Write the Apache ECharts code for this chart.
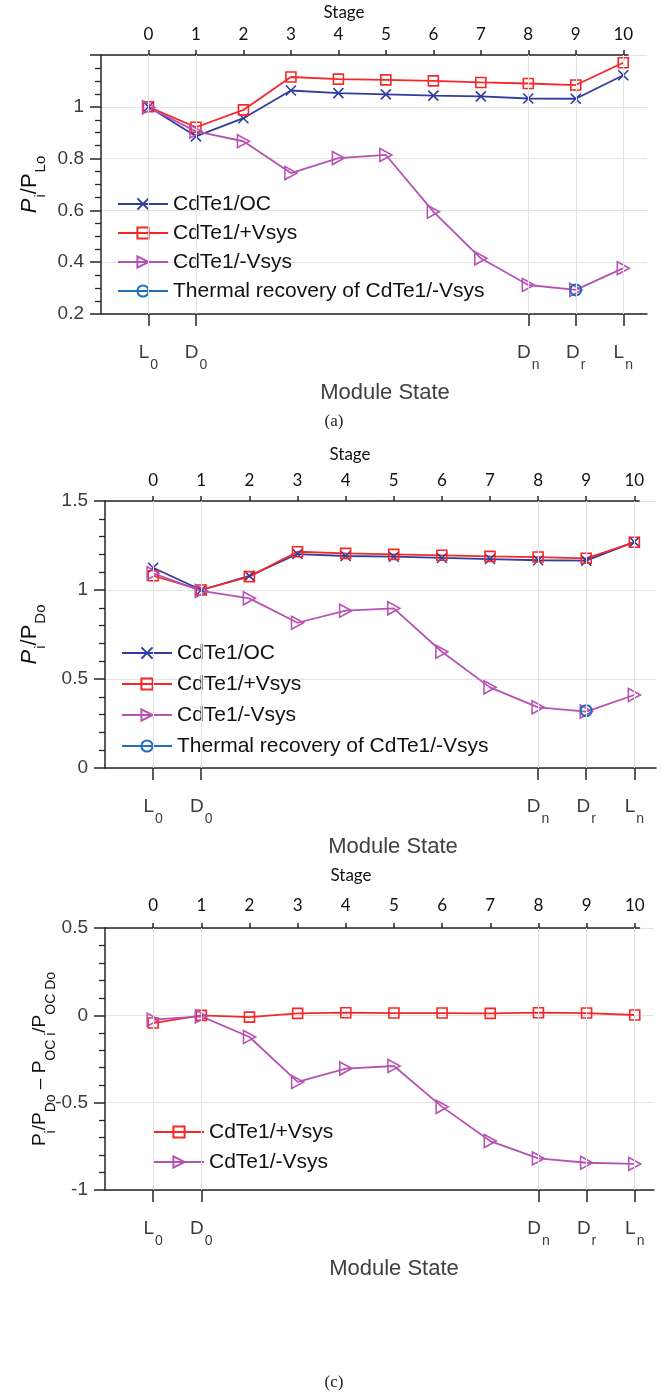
<!DOCTYPE html>
<html><head><meta charset="utf-8">
<script src="https://cdn.jsdelivr.net/npm/echarts@6/dist/echarts.min.js"></script>
<style>html,body{margin:0;padding:0;background:#fff}#c{width:668px;height:1395px}</style>
</head><body><div id="c"></div>
<script>
// ---------------- data ----------------
const STAGES = [0,1,2,3,4,5,6,7,8,9,10];
const STAGE_LABELS = ['0','1','2','3','4','5','6','7','8','9','10'];
const STATE_TICKS = [0,1,8,9,10];
const STATE_MAIN = ['L','D','D','D','L'];
const STATE_SUB = ['0','0','n','r','n'];
const SERIES_NAMES = ['CdTe1/OC','CdTe1/+Vsys','CdTe1/-Vsys','Thermal recovery of CdTe1/-Vsys'];

// panel (a): Pi/PLo
const A_OC  = [1.000,0.886,0.956,1.063,1.053,1.048,1.043,1.040,1.032,1.031,1.122];
const A_POS = [1.000,0.921,0.988,1.115,1.107,1.104,1.100,1.094,1.090,1.084,1.170];
const A_NEG = [0.998,0.905,0.867,0.744,0.802,0.814,0.595,0.415,0.312,0.293,0.377];
const THERMAL_STAGE = [9];
const A_THERMAL = [0.293];

// panel (b): Pi/PDo
const B_OC  = [1.125,1.000,1.079,1.202,1.191,1.187,1.180,1.174,1.167,1.165,1.270];
const B_POS = [1.080,1.000,1.075,1.215,1.206,1.200,1.195,1.189,1.185,1.178,1.268];
const B_NEG = [1.094,0.995,0.953,0.816,0.884,0.897,0.653,0.453,0.341,0.317,0.410];
const B_THERMAL = [0.322];

// panel (c): Pi/PDo - POCi/POCDo
const C_POS = [-0.044,0.000,-0.010,0.011,0.015,0.013,0.013,0.011,0.015,0.013,0.002];
const C_NEG = [-0.025,-0.006,-0.124,-0.381,-0.305,-0.290,-0.524,-0.720,-0.819,-0.844,-0.851];

// ---------------- styles ----------------
const FONT = "'Liberation Sans', Arial, Helvetica, sans-serif";
const STAGE_FONT = "Lato, 'Open Sans', sans-serif";
const AX = '#262626', GRIDC = '#e2e2e2', TXT = '#3c3c3c';
const COL = {oc:'#2f3d9e', pos:'#f52828', neg:'#b652b3', th:'#1f6fbf'};
const SYM = {
  x: 'path://M0,0L10,10M10,0L0,10',
  tri: 'path://M0,0L10,5L0,10Z',
  rect: 'rect',
  circle: 'circle'
};

const zip = (xs, ys) => xs.map((x, i) => [x, ys[i]]);

const layouts = [
  {left:101, top:55, right:21, height:259, xmax:10.5, ymin:0.2, ymax:1.2, yint:0.2, minor:4,
   yname:'{i|P}{s|i}{n|/P}{s|Lo}', nameGap:58, msPad:22, topMargin:12,
   legend:{left:117, top:193, gap:7}, hideTop:true,
   series:[['CdTe1/OC',A_OC,COL.oc,SYM.x,10],['CdTe1/+Vsys',A_POS,COL.pos,SYM.rect,10],['CdTe1/-Vsys',A_NEG,COL.neg,SYM.tri,[12,13]]],
   thermal:A_THERMAL, legendNames:SERIES_NAMES},
  {left:105, top:501, right:12, height:267, xmax:10.45, ymin:0, ymax:1.5, yint:0.5, minor:5,
   yname:'{i|P}{s|i}{n|/P}{s|Do}', nameGap:62, msPad:25, topMargin:12,
   legend:{left:121, top:642, gap:9}, hideTop:false,
   series:[['CdTe1/OC',B_OC,COL.oc,SYM.x,10],['CdTe1/+Vsys',B_POS,COL.pos,SYM.rect,10],['CdTe1/-Vsys',B_NEG,COL.neg,SYM.tri,[12,13]]],
   thermal:B_THERMAL, legendNames:SERIES_NAMES},
  {left:105, top:928, right:14, height:262, xmax:10.4, ymin:-1, ymax:0.5, yint:0.5, minor:5,
   yname:'{n|P}{s|i}{n|/P}{s|Do}{n| – P}{s|OC i}{n|/P}{s|OC Do}', nameGap:53, msPad:29, topMargin:14,
   legend:{left:153, top:1121, gap:8}, hideTop:false, small:true,
   series:[['CdTe1/+Vsys',C_POS,COL.pos,SYM.rect,10],['CdTe1/-Vsys',C_NEG,COL.neg,SYM.tri,[12,13]]],
   thermal:null, legendNames:['CdTe1/+Vsys','CdTe1/-Vsys']}
];

const option = {animation:false, backgroundColor:'#fff', grid:[], xAxis:[], yAxis:[], series:[], legend:[], graphic:[]};

layouts.forEach((L, p) => {
  const W = 668 - L.left - L.right;
  const unit = W / (L.xmax + 1);
  const topMax = 10.1;
  const gi = 2 * p, ti = 2 * p + 1;
  option.grid.push({left:L.left, top:L.top, right:L.right, height:L.height, outerBoundsMode:'none', containLabel:false});
  option.grid.push({left:L.left, top:L.top, width:(topMax + 1) * unit, height:L.height, outerBoundsMode:'none', containLabel:false});

  // bottom axis: module state
  option.xAxis.push({
    type:'value', gridIndex:gi, position:'bottom', min:-1, max:L.xmax, interval:1,
    axisLine:{show:true, onZero:false, lineStyle:{color:AX, width:1.5}},
    axisTick:{show:true, customValues:STATE_TICKS, length:12, lineStyle:{color:AX, width:1.5}},
    axisLabel:{show:true, customValues:STATE_TICKS, margin:29,
      formatter:v => { const k = STATE_TICKS.indexOf(v); return k < 0 ? '' : '{m|' + STATE_MAIN[k] + '}{s|' + STATE_SUB[k] + '}'; },
      rich:{m:{fontSize:19, lineHeight:22, verticalAlign:'top', color:TXT, fontFamily:FONT},
            s:{fontSize:14, lineHeight:14, padding:[15,0,0,1], verticalAlign:'top', color:TXT, fontFamily:FONT}}},
    splitLine:{show:false},
    name:'Module State', nameLocation:'middle', nameGap:68, nameMoveOverlap:false,
    nameTextStyle:{fontSize:22, color:'#404040', fontFamily:FONT, padding:[0,0,0,L.msPad]}
  });
  // top axis: stage
  option.xAxis.push({
    type:'value', gridIndex:ti, position:'top', min:-1, max:topMax, interval:1,
    axisLine:{show:true, onZero:false, lineStyle:{color:AX, width:1.5}},
    axisTick:{show:true, customValues:STAGES, length:5, lineStyle:{color:AX, width:1.5}},
    axisLabel:{show:true, customValues:STAGES, margin:L.topMargin, fontSize:17, color:'#111', fontFamily:STAGE_FONT,
      formatter:v => { const k = STAGES.indexOf(v); return k < 0 ? '' : STAGE_LABELS[k]; }},
    splitLine:{show:false}
  });
  option.yAxis.push({
    type:'value', gridIndex:gi, min:L.ymin, max:L.ymax, interval:L.yint,
    axisLine:{show:true, onZero:false, lineStyle:{color:AX, width:1.5}},
    axisTick:{show:true, length:11, lineStyle:{color:AX, width:1.5}},
    minorTick:{show:true, splitNumber:L.minor, length:6, lineStyle:{color:AX, width:1.3}},
    axisLabel:{fontSize:19, color:TXT, fontFamily:FONT, margin:17,
      formatter:v => (L.hideTop && Math.abs(v - L.ymax) < 1e-9) ? '' : String(Math.round(v * 100) / 100)},
    splitLine:{show:true, lineStyle:{color:GRIDC, width:1}},
    name:L.yname, nameLocation:'middle', nameRotate:90, nameGap:L.nameGap, nameMoveOverlap:false,
    nameTextStyle:{color:'#111', fontFamily:FONT, rich: L.small ? {
        n:{fontSize:19, lineHeight:22, verticalAlign:'top', fontFamily:FONT, color:'#111'},
        s:{fontSize:14, lineHeight:14, padding:[14,0,0,0], verticalAlign:'top', fontFamily:FONT, color:'#111'}
      } : {
        i:{fontSize:22, fontStyle:'italic', lineHeight:24, verticalAlign:'top', fontFamily:FONT, color:'#111'},
        n:{fontSize:22, lineHeight:24, verticalAlign:'top', fontFamily:FONT, color:'#111'},
        s:{fontSize:15, lineHeight:15, padding:[14,0,0,1], verticalAlign:'top', fontFamily:FONT, color:'#111'}
      }}
  });
  option.yAxis.push({type:'value', gridIndex:ti, show:false, min:0, max:1});

  // vertical grid lines at module-state ticks
  option.series.push({
    type:'line', name:'grid' + p, data:[], xAxisIndex:gi, yAxisIndex:gi, z:1, silent:true,
    markLine:{silent:true, symbol:['none','none'], label:{show:false}, animation:false,
      lineStyle:{color:GRIDC, width:1, type:'solid'}, emphasis:{disabled:true},
      data:STATE_TICKS.map(v => ({xAxis:v}))}
  });

  L.series.forEach(([name, ys, color, sym, size]) => {
    option.series.push({
      type:'line', name, data:zip(STAGES, ys), xAxisIndex:gi, yAxisIndex:gi,
      symbol:sym, symbolSize:size, showSymbol:true, showAllSymbol:true,
      lineStyle:{color, width:1.8},
      itemStyle:{color:'rgba(0,0,0,0)', borderColor:color, borderWidth:1.6},
      emphasis:{disabled:true}, z:3, animation:false
    });
  });
  if (L.thermal) {
    option.series.push({
      type:'line', name:SERIES_NAMES[3], data:zip(THERMAL_STAGE, L.thermal), xAxisIndex:gi, yAxisIndex:gi,
      symbol:'circle', symbolSize:11, showSymbol:true,
      lineStyle:{color:COL.th, width:1.8},
      itemStyle:{color:'rgba(0,0,0,0)', borderColor:COL.th, borderWidth:2},
      emphasis:{disabled:true}, z:4, animation:false
    });
  }

  option.legend.push({
    data:L.legendNames, orient:'vertical', left:L.legend.left, top:L.legend.top, padding:0,
    itemWidth:50, itemHeight:14, itemGap:L.legend.gap, selectedMode:false,
    textStyle:{fontSize:21, color:'#111', fontFamily:FONT, lineHeight:22}
  });
});

const STAGE_POS = [[344,13],[350,455],[351,876]];
STAGE_POS.forEach(([x, y]) => option.graphic.push({type:'text', x, y, silent:true,
  style:{text:'Stage', fontSize:17, fill:'#111', fontFamily:STAGE_FONT, align:'center', verticalAlign:'middle'}}));
option.graphic.push({type:'text', x:334, y:422, silent:true, style:{text:'(a)', fontSize:17, fill:'#222', fontFamily:"'Liberation Serif', 'Times New Roman', serif", align:'center', verticalAlign:'middle'}});
option.graphic.push({type:'text', x:334, y:1383, silent:true, style:{text:'(c)', fontSize:17, fill:'#222', fontFamily:"'Liberation Serif', 'Times New Roman', serif", align:'center', verticalAlign:'middle'}});

const chart = echarts.init(document.getElementById('c'), null, {renderer:'canvas'});
chart.setOption(option);
</script>
</body></html>
